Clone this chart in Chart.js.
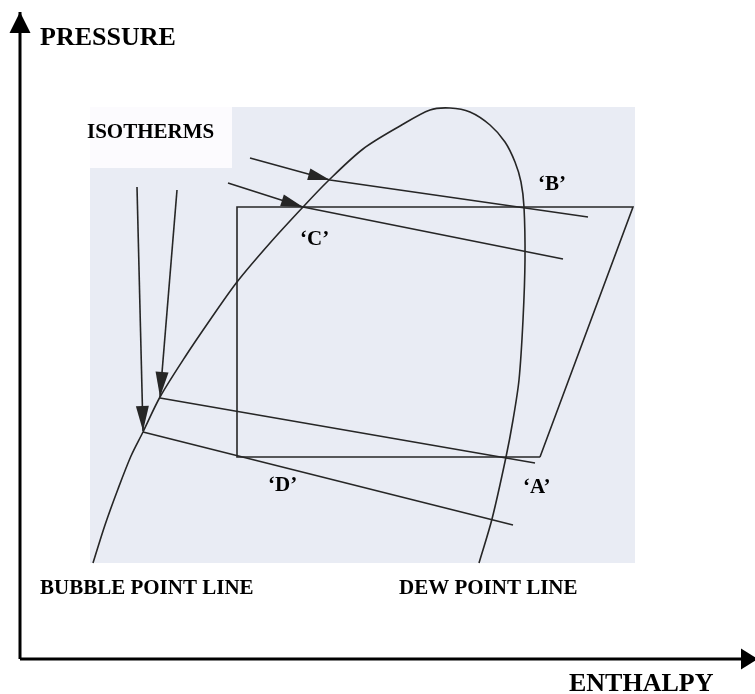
<!DOCTYPE html>
<html>
<head>
<meta charset="utf-8">
<script src="https://cdn.jsdelivr.net/npm/chart.js@4.4.1/dist/chart.umd.min.js"></script>
<style>
  html, body { margin: 0; padding: 0; background: #ffffff; }
  #wrap { width: 755px; height: 694px; position: relative; }
</style>
</head>
<body>
<div id="wrap"><canvas id="chart"></canvas></div>
<script>
// Diagram units: x = enthalpy, y = pressure (both, 0..755 / 0..694)

// Phase envelope: bubble point line up the left, dew point line down the right
const envelopeH = [93, 105, 118, 131, 143, 160, 185, 210, 237, 270, 303, 328, 363, 400, 430, 450, 470, 490, 505, 515, 521, 524, 525, 523, 519, 513, 506, 492, 479];
const envelopeP = [131, 169, 205, 238, 262, 297, 337, 374, 412, 451, 487, 513, 545, 568, 584, 586, 582, 569, 552, 532, 512, 487, 434, 374, 314, 274, 237, 175, 131];

// Refrigeration cycle A -> B -> C -> D
const cycleH = [540, 633, 237, 237, 540];
const cycleP = [237, 487, 487, 237, 237];

// Isotherms (bent where they cross the bubble line)
const iso1H = [250, 330, 588];
const iso1P = [536, 514, 477];
const iso2H = [228, 303, 563];
const iso2P = [511, 487, 435];
const iso3H = [160, 535];
const iso3P = [296, 231];
const iso4H = [143, 513];
const iso4P = [262, 169];

// Pointer arrows from the ISOTHERMS caption
const pointer1H = [137, 143];
const pointer1P = [507, 263];
const pointer2H = [177, 160];
const pointer2P = [504, 297];

// Axes
const pressureAxisH = [20, 20];
const pressureAxisP = [35, 682];
const enthalpyAxisH = [20, 758];
const enthalpyAxisP = [35, 35];

// Text
const labelTexts = ['PRESSURE', 'ENTHALPY', 'ISOTHERMS', 'BUBBLE POINT LINE', 'DEW POINT LINE', '\u2018B\u2019', '\u2018C\u2019', '\u2018D\u2019', '\u2018A\u2019'];
const labelH = [40, 569, 87, 40, 399, 538, 300, 268, 523];
const labelP = [649, 3, 556, 100, 100, 504, 449, 203, 201];
const labelSize = [26, 26, 21, 21, 21, 21, 21, 21, 21];

function pts(h, p) {
    return h.map((v, i) => ({ x: v, y: p[i] }));
}

const LINE_COLOR = '#262626';

function line(label, h, p, extra) {
    return Object.assign({
        label: label,
        data: pts(h, p),
        showLine: true,
        borderColor: LINE_COLOR,
        borderWidth: 1.6,
        pointRadius: 0,
        tension: 0,
        fill: false
    }, extra || {});
}

// grey scanned panel + white caption box
const panelPlugin = {
    id: 'panels',
    beforeDatasetsDraw(chart) {
        const ctx = chart.ctx;
        const xs = chart.scales.x, ys = chart.scales.y;
        const rect = (h0, h1, p0, p1, color) => {
            const x0 = xs.getPixelForValue(h0), x1 = xs.getPixelForValue(h1);
            const y0 = ys.getPixelForValue(p1), y1 = ys.getPixelForValue(p0);
            ctx.fillStyle = color;
            ctx.fillRect(x0, y0, x1 - x0, y1 - y0);
        };
        ctx.save();
        rect(90, 635, 131, 587, '#e9ecf4');
        rect(90, 232, 526, 587, '#fcfbfe');
        ctx.restore();
    }
};

// arrowheads at chosen points + text labels
const arrowPlugin = {
    id: 'arrows',
    afterDatasetsDraw(chart) {
        const ctx = chart.ctx;
        ctx.save();
        chart.data.datasets.forEach((ds, i) => {
            if (!ds.arrowAt) return;
            const pts = chart.getDatasetMeta(i).data;
            const tip = pts[ds.arrowAt];
            const prev = pts[ds.arrowAt - 1];
            const ang = Math.atan2(tip.y - prev.y, tip.x - prev.x);
            const len = ds.arrowLen, w = ds.arrowWidth;
            ctx.beginPath();
            ctx.moveTo(tip.x, tip.y);
            ctx.lineTo(tip.x - len * Math.cos(ang) + w * Math.sin(ang), tip.y - len * Math.sin(ang) - w * Math.cos(ang));
            ctx.lineTo(tip.x - len * Math.cos(ang) - w * Math.sin(ang), tip.y - len * Math.sin(ang) + w * Math.cos(ang));
            ctx.closePath();
            ctx.fillStyle = ds.borderColor;
            ctx.fill();
        });

        const xs = chart.scales.x, ys = chart.scales.y;
        ctx.fillStyle = '#000000';
        ctx.textBaseline = 'alphabetic';
        ctx.textAlign = 'left';
        labelTexts.forEach((t, i) => {
            ctx.font = 'bold ' + labelSize[i] + 'px "Liberation Serif", "DejaVu Serif", serif';
            ctx.fillText(t, xs.getPixelForValue(labelH[i]), ys.getPixelForValue(labelP[i]));
        });
        ctx.restore();
    }
};

const datasets = [
    line('Bubble / dew point line', envelopeH, envelopeP, { tension: 0.3 }),
    line('Cycle', cycleH, cycleP),
    line('Isotherm 1', iso1H, iso1P, { arrowAt: 1, arrowLen: 22, arrowWidth: 6 }),
    line('Isotherm 2', iso2H, iso2P, { arrowAt: 1, arrowLen: 22, arrowWidth: 6 }),
    line('Isotherm 3', iso3H, iso3P),
    line('Isotherm 4', iso4H, iso4P),
    line('Pointer 1', pointer1H, pointer1P, { arrowAt: 1, arrowLen: 25, arrowWidth: 6.5 }),
    line('Pointer 2', pointer2H, pointer2P, { arrowAt: 1, arrowLen: 25, arrowWidth: 6.5 }),
    line('Pressure axis', pressureAxisH, pressureAxisP, { borderColor: '#000000', borderWidth: 3, arrowAt: 1, arrowLen: 21, arrowWidth: 10.5 }),
    line('Enthalpy axis', enthalpyAxisH, enthalpyAxisP, { borderColor: '#000000', borderWidth: 3, arrowAt: 1, arrowLen: 17, arrowWidth: 10.5 })
];

new Chart(document.getElementById('chart'), {
    type: 'scatter',
    data: { datasets: datasets },
    options: {
        responsive: true,
        maintainAspectRatio: false,
        animation: false,
        layout: { padding: 0 },
        clip: false,
        plugins: { legend: { display: false }, tooltip: { enabled: false } },
        scales: {
            x: { type: 'linear', min: 0, max: 755, display: false },
            y: { type: 'linear', min: 0, max: 694, display: false }
        }
    },
    plugins: [panelPlugin, arrowPlugin]
});
</script>
</body>
</html>
